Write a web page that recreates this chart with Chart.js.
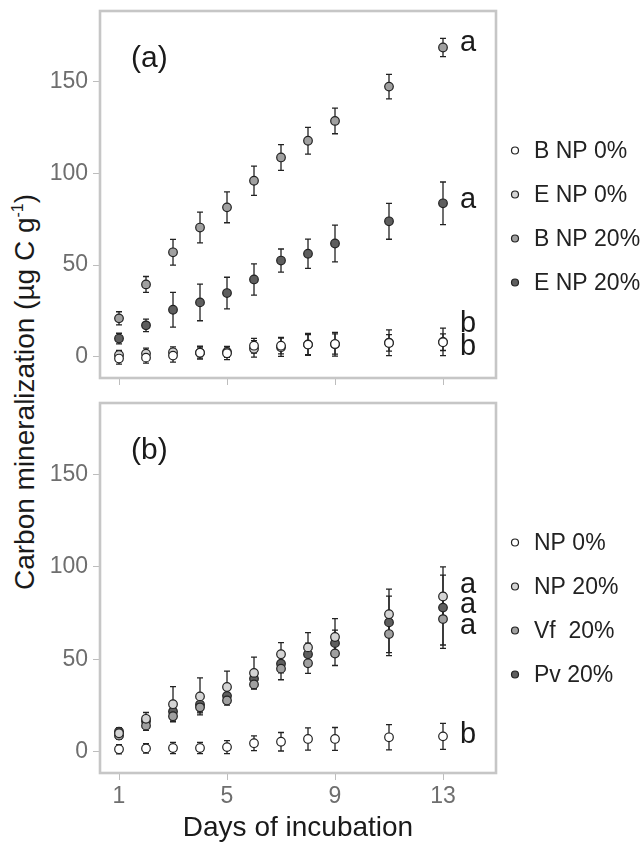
<!DOCTYPE html>
<html>
<head>
<meta charset="utf-8">
<script src="https://cdn.jsdelivr.net/npm/chart.js@4.4.0/dist/chart.umd.min.js"></script>
<style>
  html, body { margin: 0; padding: 0; background: #fff; }
  body { width: 641px; height: 842px; position: relative; overflow: hidden; font-family: "Liberation Sans", Arial, sans-serif; }
  canvas { position: absolute; left: 0; }
  #c1 { top: 0; }
  #c2 { top: 392px; }
  #ytitle { position: absolute; left: 25px; top: 392px; transform: translate(-50%, -50%) rotate(-90deg);
            font-size: 28px; line-height: 28px; white-space: nowrap; color: #1a1a1a; }
  #ytitle sup { font-size: 16px; line-height: 0; vertical-align: 11px; }
</style>
</head>
<body>
<div id="ytitle">Carbon mineralization (µg C g<sup>-1</sup>)</div>
<canvas id="c1" width="641" height="395"></canvas>
<canvas id="c2" width="641" height="450"></canvas>
<script>
const days = [1, 2, 3, 4, 5, 6, 7, 8, 9, 11, 13];
const xTicks = [1, 5, 9, 13];
const yTicks = [0, 50, 100, 150];

// panel (a)
const labelsA = ['B NP 0%', 'E NP 0%', 'B NP 20%', 'E NP 20%'];
const bNp0 = [-0.9, -0.4, 0.7, 2.3, 2, 6.1, 6.1, 6.7, 7, 7.6, 8];
const bNp0Err = [3, 3, 3.5, 3.5, 3.5, 4, 4.5, 5.5, 5.5, 4.5, 4.5];
const eNp0 = [1, 1.8, 2.5, 2.3, 2.7, 4.4, 5.3, 6.8, 6.9, 7.7, 8.2];
const eNp0Err = [2.5, 3, 3, 3, 3, 4.5, 5, 6, 6.5, 7, 7.5];
const bNp20 = [21, 39.5, 57, 70.5, 81.5, 96, 108.7, 117.8, 128.6, 147.3, 168.6];
const bNp20Err = [3.6, 4.3, 7, 8.4, 8.4, 8, 7, 7.3, 7, 6.7, 5];
const eNp20 = [10, 17.2, 25.7, 29.7, 34.8, 42.2, 52.5, 56.2, 61.8, 73.9, 83.7];
const eNp20Err = [2.9, 3.4, 9.5, 10, 8.6, 8.5, 6.3, 8, 10, 9.8, 11.6];
const lettersA = ['a', 'a', 'b', 'b'];
const lettersAY = [166.5, 81, 13.8, 1.1];

// panel (b)
const labelsB = ['NP 0%', 'NP 20%', 'Vf  20%', 'Pv 20%'];
const np0 = [1.3, 1.8, 2, 2, 2.5, 4.6, 5.4, 6.9, 6.9, 7.8, 8.3];
const np0Err = [2.5, 2.5, 3, 3, 3.5, 4, 5, 6, 6.2, 6.8, 7];
const np20 = [10, 17.8, 25.7, 29.9, 35, 42.6, 52.7, 56.4, 62, 74.3, 83.9];
const np20Err = [2.9, 3.4, 9.5, 10, 8.6, 8.5, 6.3, 8, 10, 9.8, 11.6];
const vf20 = [8.7, 14.1, 19.2, 24, 27.7, 36.4, 44.9, 47.8, 53.1, 63.6, 71.7];
const vf20Err = [2, 2.5, 2.5, 3, 2.5, 2.5, 6, 5.4, 6.5, 10, 14];
const pv20 = [10.9, 16.5, 21.7, 25.5, 30.2, 39.5, 47.6, 52.7, 58.7, 69.9, 77.9];
const pv20Err = [2, 3, 4, 4, 4, 4, 5, 6, 7, 18, 22];
const lettersB = ['a', 'a', 'a', 'b'];
const lettersBY = [85.7, 74.8, 63.6, 4.5];

const fills = ['#ffffff', '#d4d4d4', '#a0a0a0', '#5e5e5e'];
const FONT = '"Liberation Sans", Arial, sans-serif';

function makeSet(label, values, errs, color) {
    return {
        label: label,
        data: values.map((v, i) => ({ x: days[i], y: v })),
        errors: errs,
        showLine: false,
        pointRadius: 4.3,
        pointBorderWidth: 1.2,
        pointBorderColor: '#222',
        pointBackgroundColor: color
    };
}

// error bars, box, legend, letters
const panelDeco = {
    id: 'panelDeco',
    beforeDatasetsDraw(chart) {
        const ctx = chart.ctx, xs = chart.scales.x, ys = chart.scales.y;
        ctx.save();
        ctx.strokeStyle = '#222';
        ctx.lineWidth = 1.3;
        chart.data.datasets.forEach(ds => {
            ds.data.forEach((p, i) => {
                const x = xs.getPixelForValue(p.x);
                const y1 = ys.getPixelForValue(p.y - ds.errors[i]);
                const y2 = ys.getPixelForValue(p.y + ds.errors[i]);
                ctx.beginPath();
                ctx.moveTo(x, y1); ctx.lineTo(x, y2);
                ctx.moveTo(x - 3, y1); ctx.lineTo(x + 3, y1);
                ctx.moveTo(x - 3, y2); ctx.lineTo(x + 3, y2);
                ctx.stroke();
            });
        });
        ctx.restore();
    },
    afterDraw(chart, args, opts) {
        const ctx = chart.ctx, a = chart.chartArea;
        const xs = chart.scales.x, ys = chart.scales.y;
        ctx.save();
        ctx.strokeStyle = '#c6c6c6';
        ctx.lineWidth = 2.6;
        ctx.strokeRect(a.left, a.top, a.right - a.left, a.bottom - a.top);

        ctx.fillStyle = '#1a1a1a';
        ctx.textBaseline = 'alphabetic';
        ctx.font = '30px ' + FONT;
        ctx.fillText(opts.tag, a.left + 31, a.top + 56);

        ctx.font = '29px ' + FONT;
        const lx = xs.getPixelForValue(13) + 17;
        opts.letters.forEach((t, i) => ctx.fillText(t, lx, ys.getPixelForValue(opts.letterY[i])));

        // legend
        ctx.font = '23px ' + FONT;
        ctx.textBaseline = 'middle';
        chart.data.datasets.forEach((ds, i) => {
            const cy = a.top + 139.5 + i * 44;
            ctx.beginPath();
            ctx.arc(a.right + 19, cy, 3.5, 0, Math.PI * 2);
            ctx.fillStyle = ds.pointBackgroundColor;
            ctx.fill();
            ctx.lineWidth = 1.2;
            ctx.strokeStyle = '#222';
            ctx.stroke();
            ctx.fillStyle = '#222';
            ctx.fillText(ds.label, a.right + 38, cy + 1);
        });

        if (opts.xTitle) {
            ctx.font = '28px ' + FONT;
            ctx.textAlign = 'center';
            ctx.textBaseline = 'alphabetic';
            ctx.fillStyle = '#1a1a1a';
            ctx.fillText(opts.xTitle, (a.left + a.right) / 2, 444);
        }
        ctx.restore();
    }
};

function makeChart(id, sets, xHeight, showXLabels, deco) {
    return new Chart(document.getElementById(id), {
        type: 'scatter',
        data: { datasets: sets },
        plugins: [panelDeco],
        options: {
            responsive: false,
            animation: false,
            events: [],
            layout: { padding: { left: 0, right: 145, top: 11, bottom: 0 } },
            plugins: { legend: { display: false }, tooltip: { enabled: false }, panelDeco: deco },
            scales: {
                x: {
                    type: 'linear', min: 0.296, max: 14.963,
                    afterBuildTicks: s => { s.ticks = xTicks.map(v => ({ value: v })); },
                    afterFit: s => { s.height = xHeight; s.paddingLeft = 0; s.paddingRight = 0; },
                    grid: { drawOnChartArea: false, drawTicks: true, tickLength: 7, color: '#bdbdbd' },
                    border: { display: false },
                    ticks: { display: showXLabels, autoSkip: false, maxRotation: 0, padding: 3,
                             color: '#6e6e6e', font: { family: FONT, size: 23 } }
                },
                y: {
                    type: 'linear', min: -11.5, max: 188.5,
                    afterBuildTicks: s => { s.ticks = yTicks.map(v => ({ value: v })); },
                    afterFit: s => { s.width = 100; s.paddingTop = 0; s.paddingBottom = 0; },
                    grid: { drawOnChartArea: false, drawTicks: true, tickLength: 7, color: '#bdbdbd' },
                    border: { display: false },
                    ticks: { padding: 5, color: '#6e6e6e', font: { family: FONT, size: 23 } }
                }
            }
        }
    });
}

makeChart('c1', [
    makeSet(labelsA[0], bNp0, bNp0Err, fills[0]),
    makeSet(labelsA[1], eNp0, eNp0Err, fills[1]),
    makeSet(labelsA[2], bNp20, bNp20Err, fills[2]),
    makeSet(labelsA[3], eNp20, eNp20Err, fills[3])
], 17, false, { tag: '(a)', letters: lettersA, letterY: lettersAY });

makeChart('c2', [
    makeSet(labelsB[0], np0, np0Err, fills[0]),
    makeSet(labelsB[1], np20, np20Err, fills[1]),
    makeSet(labelsB[2], vf20, vf20Err, fills[2]),
    makeSet(labelsB[3], pv20, pv20Err, fills[3])
], 69, true, { tag: '(b)', letters: lettersB, letterY: lettersBY, xTitle: 'Days of incubation' });
</script>
</body>
</html>
